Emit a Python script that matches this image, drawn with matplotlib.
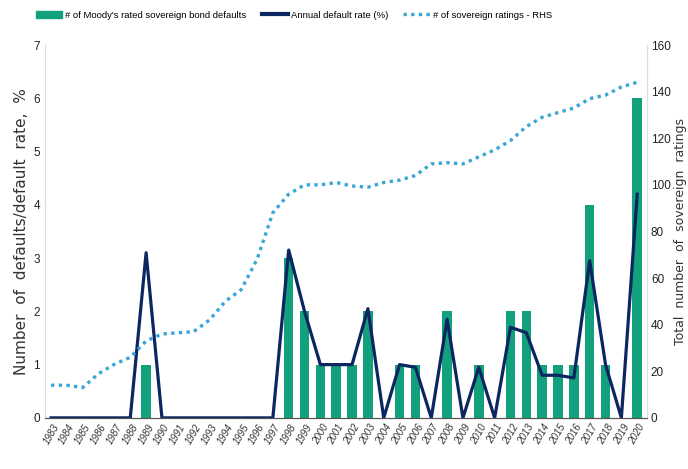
import matplotlib.pyplot as plt
from matplotlib.lines import Line2D
from matplotlib.patches import Patch

plt.rcParams['font.family'] = ['Liberation Sans', 'DejaVu Sans']

years = list(range(1983, 2021))
defaults = [0, 0, 0, 0, 0, 0, 1, 0, 0, 0, 0, 0, 0, 0, 0,
            3, 2, 1, 1, 1, 2, 0, 1, 1, 0, 2, 0, 1, 0, 2, 2, 1, 1, 1, 4, 1, 0, 6]
default_rate = [0, 0, 0, 0, 0, 0, 3.1, 0, 0, 0, 0, 0, 0, 0, 0,
                3.15, 2.0, 1.0, 1.0, 1.0, 2.05, 0, 1.0, 0.95, 0, 1.85, 0, 0.95, 0,
                1.7, 1.6, 0.8, 0.8, 0.75, 2.95, 1.0, 0, 4.2]
ratings = [14, 14, 13, 19, 23, 26, 33, 36, 36.5, 37, 42, 50, 55, 68, 88,
           96, 100, 100, 101, 99.5, 99, 101, 102, 104, 109, 109.5, 109, 112, 115,
           119, 125, 129, 131, 133, 137, 138.5, 142, 144]

GREEN = '#13a07c'
NAVY = '#0b2660'
LIGHTBLUE = '#3aa6d8'

fig = plt.figure(figsize=(6.88, 4.69), dpi=100)
ax = fig.add_axes([0.065, 0.109, 0.875, 0.795])
ax2 = ax.twinx()

ax.bar(years, defaults, width=0.6, color=GREEN, zorder=2)
ax.plot(years, default_rate, color=NAVY, lw=2.3, zorder=3)
ax2.plot(years, ratings, color=LIGHTBLUE, lw=2.4, ls=(0, (1, 1.3)))

ax.set_xlim(1982.6, 2020.6)
ax.set_ylim(0, 7)
ax2.set_ylim(0, 160)
ax.set_yticks(range(0, 8))
ax2.set_yticks(range(0, 161, 20))
ax.set_xticks(years)
ax.set_xticklabels([str(y) for y in years], rotation=60, fontsize=7, style='italic',
                   color='#333333')
ax.tick_params(axis='x', length=0, pad=3)
ax.tick_params(axis='y', length=0, labelsize=8.5, colors='#222222')
ax2.tick_params(axis='y', length=0, labelsize=8.5, colors='#222222', pad=3)

for a in (ax, ax2):
    a.spines['top'].set_visible(False)
    a.spines['left'].set_color('#dddddd')
    a.spines['right'].set_color('#dddddd')
    a.spines['bottom'].set_color('#555555')

ax.set_ylabel('Number  of  defaults/default  rate,  %', fontsize=11,
              family='DejaVu Sans', color='#333333', labelpad=3)
ax2.set_ylabel('Total  number  of  sovereign  ratings', fontsize=9,
               family='DejaVu Sans', color='#333333', labelpad=2)

handles = [Patch(color=GREEN),
           Line2D([], [], color=NAVY, lw=3),
           Line2D([], [], color=LIGHTBLUE, lw=2.4, ls=(0, (1, 1.3)))]
labels = ["# of Moody's rated sovereign bond defaults", 'Annual default rate (%)',
          '# of sovereign ratings - RHS']
fig.legend(handles, labels, loc='upper left', bbox_to_anchor=(0.04, 0.995), ncol=3,
           frameon=False, fontsize=6.8, handlelength=2.8, columnspacing=1.6,
           handleheight=0.8, handletextpad=0.3)

fig.savefig('out.png', dpi=100)
